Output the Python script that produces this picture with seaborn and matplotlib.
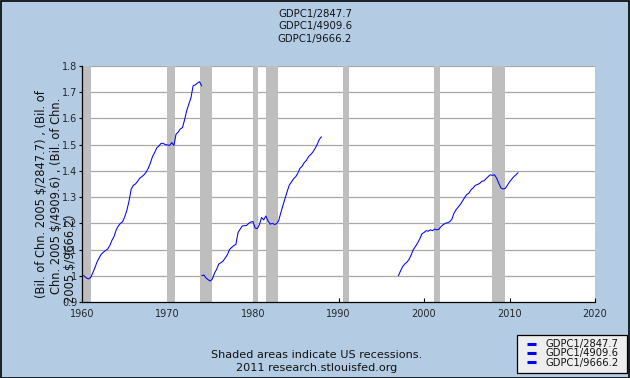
import numpy as np
import pandas as pd
import matplotlib
matplotlib.use("Agg")
import matplotlib.pyplot as plt
import seaborn as sns
from matplotlib.patches import Rectangle

# ---------------- data ----------------
series_names = ["GDPC1/2847.7", "GDPC1/4909.6", "GDPC1/9666.2"]
start_years = [1960, 1974, 1997]   # first quarter of each series (Q1)

s1_values = [1.000, 1.000, 0.992, 0.988,
             0.993, 1.010, 1.030, 1.052,
             1.068, 1.082, 1.090, 1.096,
             1.102, 1.115, 1.135, 1.150,
             1.175, 1.190, 1.200, 1.206,
             1.225, 1.250, 1.285, 1.330,
             1.345, 1.350, 1.360, 1.372,
             1.378, 1.385, 1.395, 1.410,
             1.430, 1.455, 1.470, 1.488,
             1.495, 1.505, 1.505, 1.500,
             1.499, 1.497, 1.508, 1.497,
             1.540, 1.548, 1.560, 1.565,
             1.595, 1.630, 1.655, 1.680,
             1.725, 1.728, 1.735, 1.740,
             1.724]
s2_values = [1.000, 1.003, 0.992, 0.985,
             0.980, 0.988, 1.010, 1.025,
             1.045, 1.050, 1.056, 1.068,
             1.080, 1.100, 1.108, 1.115,
             1.120, 1.165, 1.178, 1.190,
             1.191, 1.192, 1.200, 1.205,
             1.207, 1.182, 1.180, 1.195,
             1.222, 1.213, 1.228, 1.210,
             1.197, 1.200, 1.196, 1.198,
             1.210, 1.240, 1.268, 1.295,
             1.322, 1.346, 1.358, 1.370,
             1.378, 1.392, 1.410, 1.418,
             1.432, 1.440, 1.455, 1.462,
             1.472, 1.485, 1.500, 1.520,
             1.530]
s3_values = [1.000, 1.018, 1.035, 1.045,
             1.052, 1.062, 1.080, 1.100,
             1.112, 1.125, 1.140, 1.160,
             1.165, 1.172, 1.170, 1.175,
             1.172, 1.178, 1.175, 1.178,
             1.188, 1.195, 1.200, 1.202,
             1.206, 1.215, 1.238, 1.252,
             1.262, 1.272, 1.285, 1.298,
             1.310, 1.315, 1.328, 1.335,
             1.345, 1.348, 1.352, 1.360,
             1.362, 1.370, 1.378, 1.385,
             1.383, 1.385, 1.372, 1.352,
             1.335, 1.331, 1.333, 1.345,
             1.358, 1.368, 1.378, 1.385,
             1.393]

recession_starts = [1960.0, 1969.9, 1973.8, 1980.0, 1981.5, 1990.5, 2001.2, 2007.9]
recession_ends   = [1961.0, 1970.9, 1975.2, 1980.6, 1982.9, 1991.2, 2001.9, 2009.5]

x_ticks = [1960, 1970, 1980, 1990, 2000, 2010, 2020]
y_ticks = [0.9, 1.0, 1.1, 1.2, 1.3, 1.4, 1.5, 1.6, 1.7, 1.8]
y_tick_labels = ["0.9", "1", "1.1", "1.2", "1.3", "1.4", "1.5", "1.6", "1.7", "1.8"]

title_lines = ["GDPC1/2847.7", "GDPC1/4909.6", "GDPC1/9666.2"]
ylabel_lines = ["(Bil. of Chn. 2005 $/2847.7) , (Bil. of",
                "Chn. 2005 $/4909.6) , (Bil. of Chn.",
                "2005 $/9666.2)"]
footer_lines = ["Shaded areas indicate US recessions.",
                "2011 research.stlouisfed.org"]

# ---------------- build long table ----------------
frames = []
for name, start, vals in zip(series_names, start_years, [s1_values, s2_values, s3_values]):
    yrs = start + np.arange(len(vals)) * 0.25
    frames.append(pd.DataFrame({"year": yrs, "value": vals, "series": name}))
df = pd.concat(frames, ignore_index=True)

# ---------------- style ----------------
sns.set_style("white")
plt.rcParams["font.family"] = ["DejaVu Sans"]
BG = "#b3cce4"
W, H = 630, 378

fig = plt.figure(figsize=(6.3, 3.78), dpi=100, facecolor=BG)
ax = fig.add_axes([82/W, 1 - 302/H, (595 - 82)/W, (302 - 66)/H])
ax.set_facecolor("white")

# recession bands
for s, e in zip(recession_starts, recession_ends):
    ax.axvspan(s, e, color="#bebebe", lw=0, zorder=1)

# grid
for yv in y_ticks[1:]:
    ax.axhline(yv, color="#a8a8a8", lw=0.9, zorder=0.5)

sns.lineplot(data=df, x="year", y="value", hue="series",
             palette={n: "#0000ff" for n in series_names},
             estimator=None, sort=False, lw=0.75, ax=ax, zorder=3)

ax.set_xlim(1960, 2020)
ax.set_ylim(0.9, 1.8)
ax.set_xticks(x_ticks)
ax.set_xticklabels([str(t) for t in x_ticks], fontsize=7)
ax.set_yticks(y_ticks)
ax.set_yticklabels(y_tick_labels, fontsize=7)
ax.tick_params(axis="x", direction="in", length=3, width=0.8, pad=5, color="black", bottom=True)
ax.tick_params(axis="y", direction="out", length=2.5, width=0.8, pad=1, color="black", left=True)
ax.set_xlabel("")
ax.set_ylabel("")
for side in ["top", "right"]:
    ax.spines[side].set_visible(False)
for side in ["left", "bottom"]:
    ax.spines[side].set_color("black")
    ax.spines[side].set_linewidth(0.9)
    ax.spines[side].set_zorder(5)

# legend (frame drawn as a figure rectangle, entries from seaborn's handles)
handles, labels = ax.get_legend_handles_labels()
ax.get_legend().remove()
for h in handles:
    h.set_linewidth(2.2)
    h.set_solid_capstyle("butt")
fig.patches.append(Rectangle((517/W, 1 - 373/H), 110/W, 38/H, transform=fig.transFigure,
                             facecolor="#eeeeee", edgecolor="black", lw=0.9, zorder=1))
leg = fig.legend(handles, labels, loc="center left",
                 bbox_to_anchor=(526.5/W, 1 - 353.3/H), bbox_transform=fig.transFigure,
                 fontsize=7.2, frameon=False,
                 handlelength=0.93, handletextpad=0.97, labelspacing=-0.08,
                 borderpad=0, borderaxespad=0)
leg.set_zorder(6)
for t in leg.get_texts():
    t.set_color("#111111")

# titles
title_y = [14, 26.5, 39]
for t, yy in zip(title_lines, title_y):
    fig.text(315/W, 1 - yy/H, t, ha="center", va="center", fontsize=7.3, color="#111111")

# y label lines
ylab_x = [42, 57, 70]
ylab_b = [298, 294, 303]
for t, xp, yb in zip(ylabel_lines, ylab_x, ylab_b):
    fig.text(xp/W, 1 - yb/H, t, rotation=90, ha="center", va="bottom", fontsize=8.3, color="#111111")

# footer
fig.text(317/W, 1 - 355/H, footer_lines[0], ha="center", va="center", fontsize=8.1, color="#111111")
fig.text(317/W, 1 - 368/H, footer_lines[1], ha="center", va="center", fontsize=8.1, color="#111111")

# outer border
fig.patches.append(Rectangle((0.001, 0.001), 0.997, 0.997, transform=fig.transFigure,
                             fill=False, edgecolor="black", lw=1.2))

fig.savefig("out.png", dpi=100, facecolor=BG)
